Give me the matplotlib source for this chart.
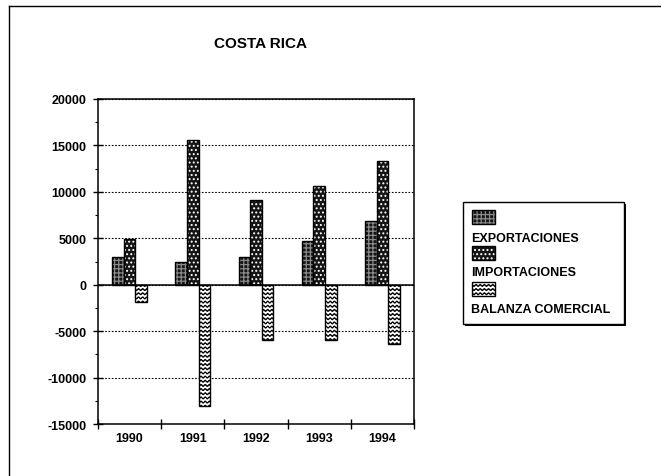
import warnings
warnings.filterwarnings('ignore')
import numpy as np
import matplotlib
matplotlib.use('Agg')
import matplotlib.pyplot as plt
from matplotlib import hatch as mhatch
from matplotlib.path import Path
from matplotlib.patches import Rectangle
from matplotlib.lines import Line2D
from matplotlib.ticker import MultipleLocator, FixedLocator

plt.rcParams['font.family'] = ['Liberation Sans', 'DejaVu Sans']
plt.rcParams['hatch.linewidth'] = 0.9
plt.rcParams['axes.unicode_minus'] = False

# ---- data ----
years = ['1990', '1991', '1992', '1993', '1994']
exportaciones = [3000, 2500, 3000, 4700, 6900]
importaciones = [4900, 15600, 9100, 10650, 13300]
balanza = [-1900, -13100, -6000, -5950, -6350]
series_labels = ['EXPORTACIONES', 'IMPORTACIONES', 'BALANZA COMERCIAL']
title = 'COSTA RICA'


# ---- custom wavy hatch ('~') ----
class WaveHatch(mhatch.HatchPatternBase):
    def __init__(self, hatch, density):
        self.num_lines = int(hatch.count('~') * density)
        self.nwaves = self.num_lines
        self.nseg = 8 * self.nwaves + 1 if self.num_lines else 0
        self.num_vertices = self.num_lines * self.nseg

    def set_vertices_and_codes(self, vertices, codes):
        n = self.num_lines
        steps = np.linspace(0.0, 1.0, n, endpoint=False) + 0.5 / n
        x = np.linspace(0.0, 1.0, self.nseg)
        amp = 0.22 / n
        for i, y0 in enumerate(steps):
            s = slice(i * self.nseg, (i + 1) * self.nseg)
            vertices[s, 0] = x
            vertices[s, 1] = y0 + amp * np.sin(2 * np.pi * self.nwaves * x)
            codes[s] = Path.LINETO
            codes[i * self.nseg] = Path.MOVETO


mhatch._hatch_types.append(WaveHatch)

styles = [
    dict(face='#151515', hatch='++++', hcolor='#8a8a8a'),
    dict(face='#151515', hatch='....', hcolor='white'),
    dict(face='white', hatch='~~~~', hcolor='black'),
]

fig = plt.figure(figsize=(6.61, 4.77), dpi=100)
ax = fig.add_axes([98 / 661, 1 - 425 / 477, 316 / 661, 325 / 477])

x = np.arange(len(years))
w = 0.183
for k, (vals, st) in enumerate(zip([exportaciones, importaciones, balanza], styles)):
    pos = x + (k - 1) * w
    ax.bar(pos, vals, width=w, color=st['face'], edgecolor=st['hcolor'],
           hatch=st['hatch'], linewidth=0, zorder=3)
    ax.bar(pos, vals, width=w, fill=False, edgecolor='black', linewidth=1.0, zorder=4)

ax.set_xlim(-0.5, len(years) - 0.5)
ax.set_ylim(-15000, 20000)
ax.yaxis.set_major_locator(MultipleLocator(5000))
ax.yaxis.set_minor_locator(MultipleLocator(2500))
ax.yaxis.grid(True, which='major', linestyle=(0, (1.5, 1.5)), color='black', linewidth=0.8)
ax.set_axisbelow(True)
ax.axhline(0, color='black', linewidth=1.1, zorder=5)

ax.set_xticks(x)
ax.set_xticklabels(years, fontweight='bold', fontsize=9)
ax.xaxis.set_minor_locator(FixedLocator(np.arange(len(years) + 1) - 0.5))
ax.tick_params(axis='x', which='major', length=0, pad=6)
ax.tick_params(axis='x', which='minor', direction='inout', length=7, width=1)
ax.tick_params(axis='y', which='major', direction='inout', length=7, width=1, pad=5)
ax.tick_params(axis='y', which='minor', direction='out', length=2.5, width=0.8)
for lab in ax.get_yticklabels():
    lab.set_fontweight('bold')
    lab.set_fontsize(9)
for sp in ax.spines.values():
    sp.set_linewidth(1.1)

fig.text(260 / 661, 1 - 44 / 477, title, ha='center', va='center',
         fontsize=11, fontweight='bold')

# ---- legend drawn in figure coordinates ----
W, H = 661.0, 477.0


def fx(px):
    return px / W


def fy(py):
    return 1 - py / H


lx0, lx1, ly0, ly1 = 463, 624, 203, 325
fig.add_artist(Rectangle((fx(lx0 + 2), fy(ly1 + 2)), fx(lx1 - lx0), (ly1 - ly0) / H,
                         transform=fig.transFigure, facecolor='black', edgecolor='black', lw=0))
fig.add_artist(Rectangle((fx(lx0), fy(ly1)), fx(lx1 - lx0), (ly1 - ly0) / H,
                         transform=fig.transFigure, facecolor='white', edgecolor='black', lw=1.0))
patch_tops = [211, 247, 283]
label_ys = [239, 273, 310]
for st, top, ly, lab in zip(styles, patch_tops, label_ys, series_labels):
    fig.add_artist(Rectangle((fx(472), fy(top + 14)), fx(23), 14 / H,
                             transform=fig.transFigure, facecolor=st['face'],
                             edgecolor=st['hcolor'], hatch=st['hatch'], lw=0))
    fig.add_artist(Rectangle((fx(472), fy(top + 14)), fx(23), 14 / H,
                             transform=fig.transFigure, fill=False, edgecolor='black', lw=1.0))
    fig.text(fx(471), fy(ly), lab, ha='left', va='center', fontsize=9.0, fontweight='bold')

# ---- page frame ----
fig.add_artist(Line2D([fx(9), 1.0], [fy(7), fy(7)], transform=fig.transFigure,
                      color='black', lw=1.0))
fig.add_artist(Line2D([fx(9), fx(9)], [fy(7), 0.0], transform=fig.transFigure,
                      color='black', lw=1.0))

fig.savefig('out.png', dpi=100)
